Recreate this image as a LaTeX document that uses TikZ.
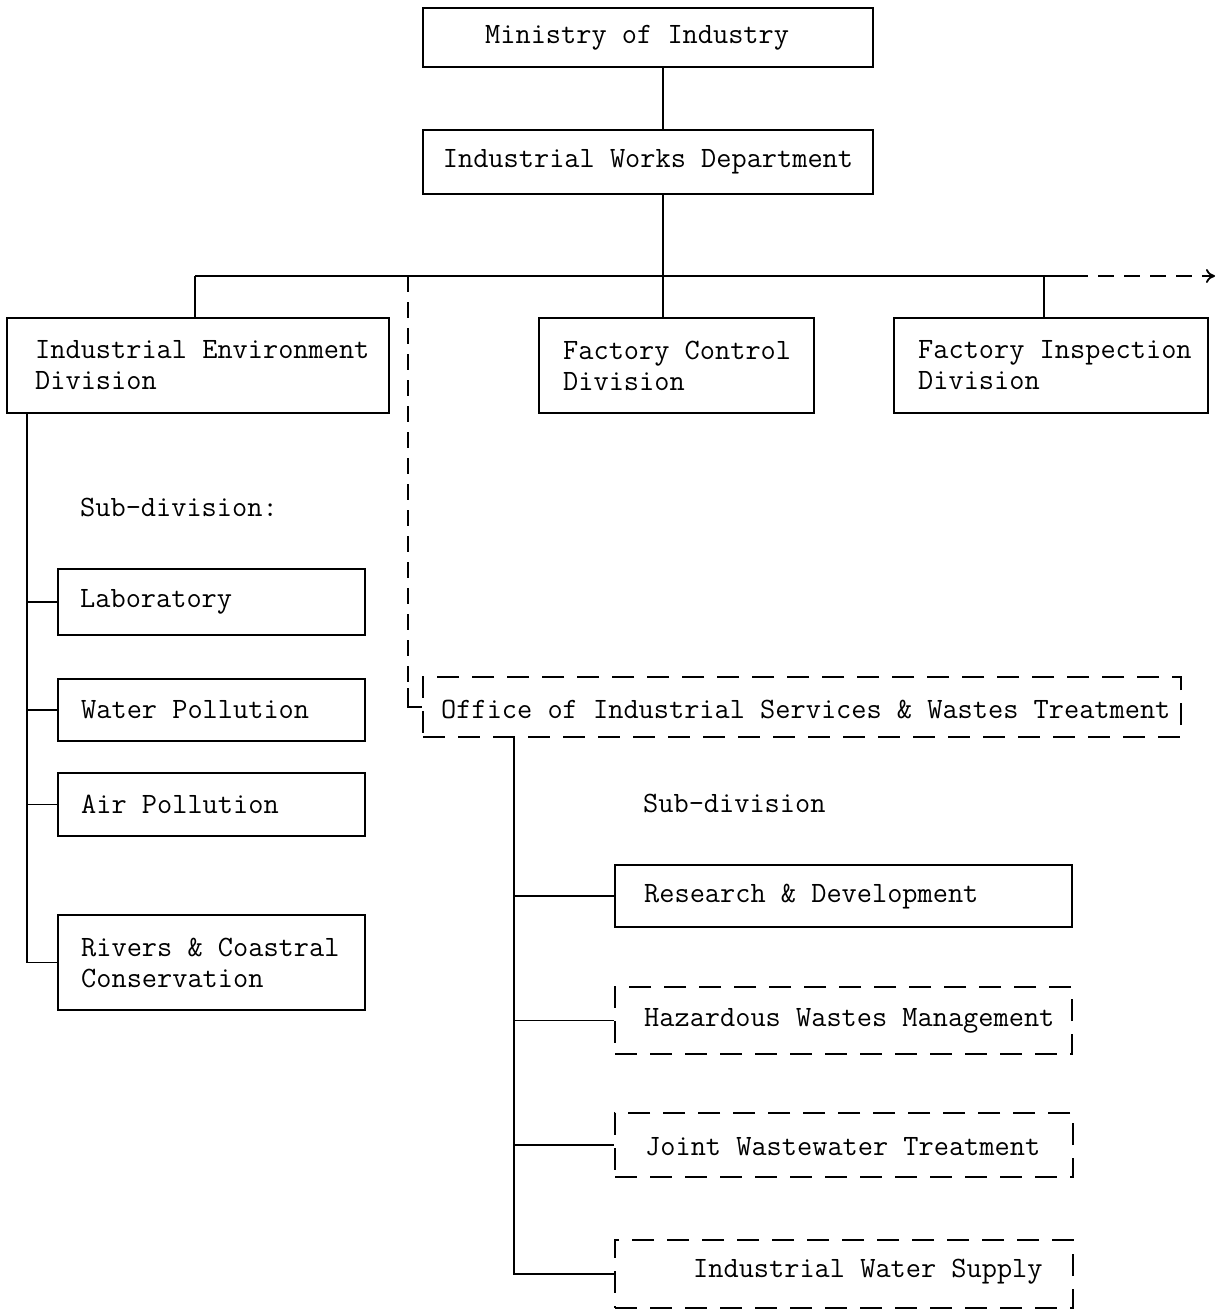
\documentclass[tikz,border=0pt]{standalone}
\usepackage{tikz}
\usetikzlibrary{calc,arrows.meta}

\begin{document}
\begin{tikzpicture}[x=1pt, y=-1pt,
    every node/.style={font=\fontsize{29.5}{31}\ttfamily},
    box/.style={draw=black, line width=1.8pt, inner sep=0pt},
    dbox/.style={box, dash pattern=on 22pt off 13pt},
    txt/.style={anchor=west, inner sep=0pt, align=left},
    link/.style={draw=black, line width=1.8pt},
    dlink/.style={link, dash pattern=on 16pt off 10pt}]

    \useasboundingbox (0,0) rectangle (1221,1310);

    \node[box, minimum width=450pt, minimum height=59pt] (min) at (648,37.5) {};
    \node[txt] (min-t) at (485,38) {Ministry of Industry};

    \node[box, minimum width=450pt, minimum height=64pt] (iwd) at (648,162) {Industrial Works Department};

    \node[box, minimum width=382pt, minimum height=95pt] (ied) at (198,365.5) {};
    \node[txt] (ied-t) at (35,365.5) {Industrial Environment\\Division};

    \node[box, minimum width=275pt, minimum height=95pt] (fcd) at (676.5,365.5) {};
    \node[txt] (fcd-t) at (563,365.5) {Factory Control\\Division};

    \node[box, minimum width=314pt, minimum height=95pt] (fid) at (1051,365.5) {};
    \node[txt] (fid-t) at (918,365.5) {Factory Inspection\\Division};

    \node[txt] (sub1) at (80,507) {Sub-division:};

    \node[box, minimum width=307pt, minimum height=66pt] (lab) at (211.5,602) {};
    \node[txt] (lab-t) at (80,602) {Laboratory};

    \node[box, minimum width=307pt, minimum height=62pt] (wat) at (211.5,710) {};
    \node[txt] (wat-t) at (81,710) {Water Pollution};

    \node[box, minimum width=307pt, minimum height=63pt] (air) at (211.5,804.5) {};
    \node[txt] (air-t) at (81,804.5) {Air Pollution};

    \node[box, minimum width=307pt, minimum height=95pt] (riv) at (211.5,962.5) {};
    \node[txt] (riv-t) at (81,962.5) {Rivers \& Coastral\\Conservation};

    \node[dbox, minimum width=758pt, minimum height=60pt] (ois) at (802,707) {};
    \node[txt] (ois-t) at (441,709) {Office of Industrial Services \& Wastes Treatment};

    \node[txt] (sub2) at (643,803) {Sub-division};

    \node[box, minimum width=457pt, minimum height=62pt] (rnd) at (843.5,896) {};
    \node[txt] (rnd-t) at (644,897) {Research \& Development};

    \node[dbox, minimum width=457pt, minimum height=67pt] (haz) at (843.5,1020.5) {};
    \node[txt] (haz-t) at (644,1021) {Hazardous Wastes Management};

    \node[dbox, minimum width=458pt, minimum height=64pt] (jwt) at (844,1145) {};
    \node[txt] (jwt-t) at (645,1147) {Joint Wastewater Treatment};

    \node[dbox, minimum width=458pt, minimum height=68pt] (iws) at (844,1274) {};
    \node[txt] (iws-t) at (693,1272) {Industrial Water Supply};

    \coordinate (trunk) at (663,276);
    \coordinate (busl) at (195,276);
    \coordinate (busr) at (1072,276);
    \coordinate (out) at (1215,276);
    \coordinate (fidtap) at (1044,276);
    \coordinate (dtap) at (408,276);
    \coordinate (dbend) at (408,688);
    \coordinate (lsp) at (27,413);
    \coordinate (rsp) at (514,737);

    \draw[link] (trunk |- min.south) -- (trunk |- iwd.north);
    \draw[link] (trunk |- iwd.south) -- (trunk |- fcd.north);
    \draw[link] (busl) -- (busr);
    \draw[dlink, -{To[length=9pt,width=14pt]}] (busr) -- (out);
    \draw[link] (busl) -- (busl |- ied.north);
    \draw[link] (fidtap) -- (fidtap |- fid.north);
    \draw[dlink] (dtap) -- (dbend);
    \draw[link] (dbend) |- (ois.west);

    \draw[link] (lsp |- ied.south) |- (riv.west);
    \draw[link] (lsp |- lab.west) -- (lab.west);
    \draw[link] (lsp |- wat.west) -- (wat.west);
    \draw[link] (lsp |- air.west) -- (air.west);

    \draw[link] (rsp |- ois.south) |- (iws.west);
    \draw[link] (rsp |- rnd.west) -- (rnd.west);
    \draw[link] (rsp |- haz.west) -- (haz.west);
    \draw[link] (rsp |- jwt.west) -- (jwt.west);

\end{tikzpicture}
\end{document}
